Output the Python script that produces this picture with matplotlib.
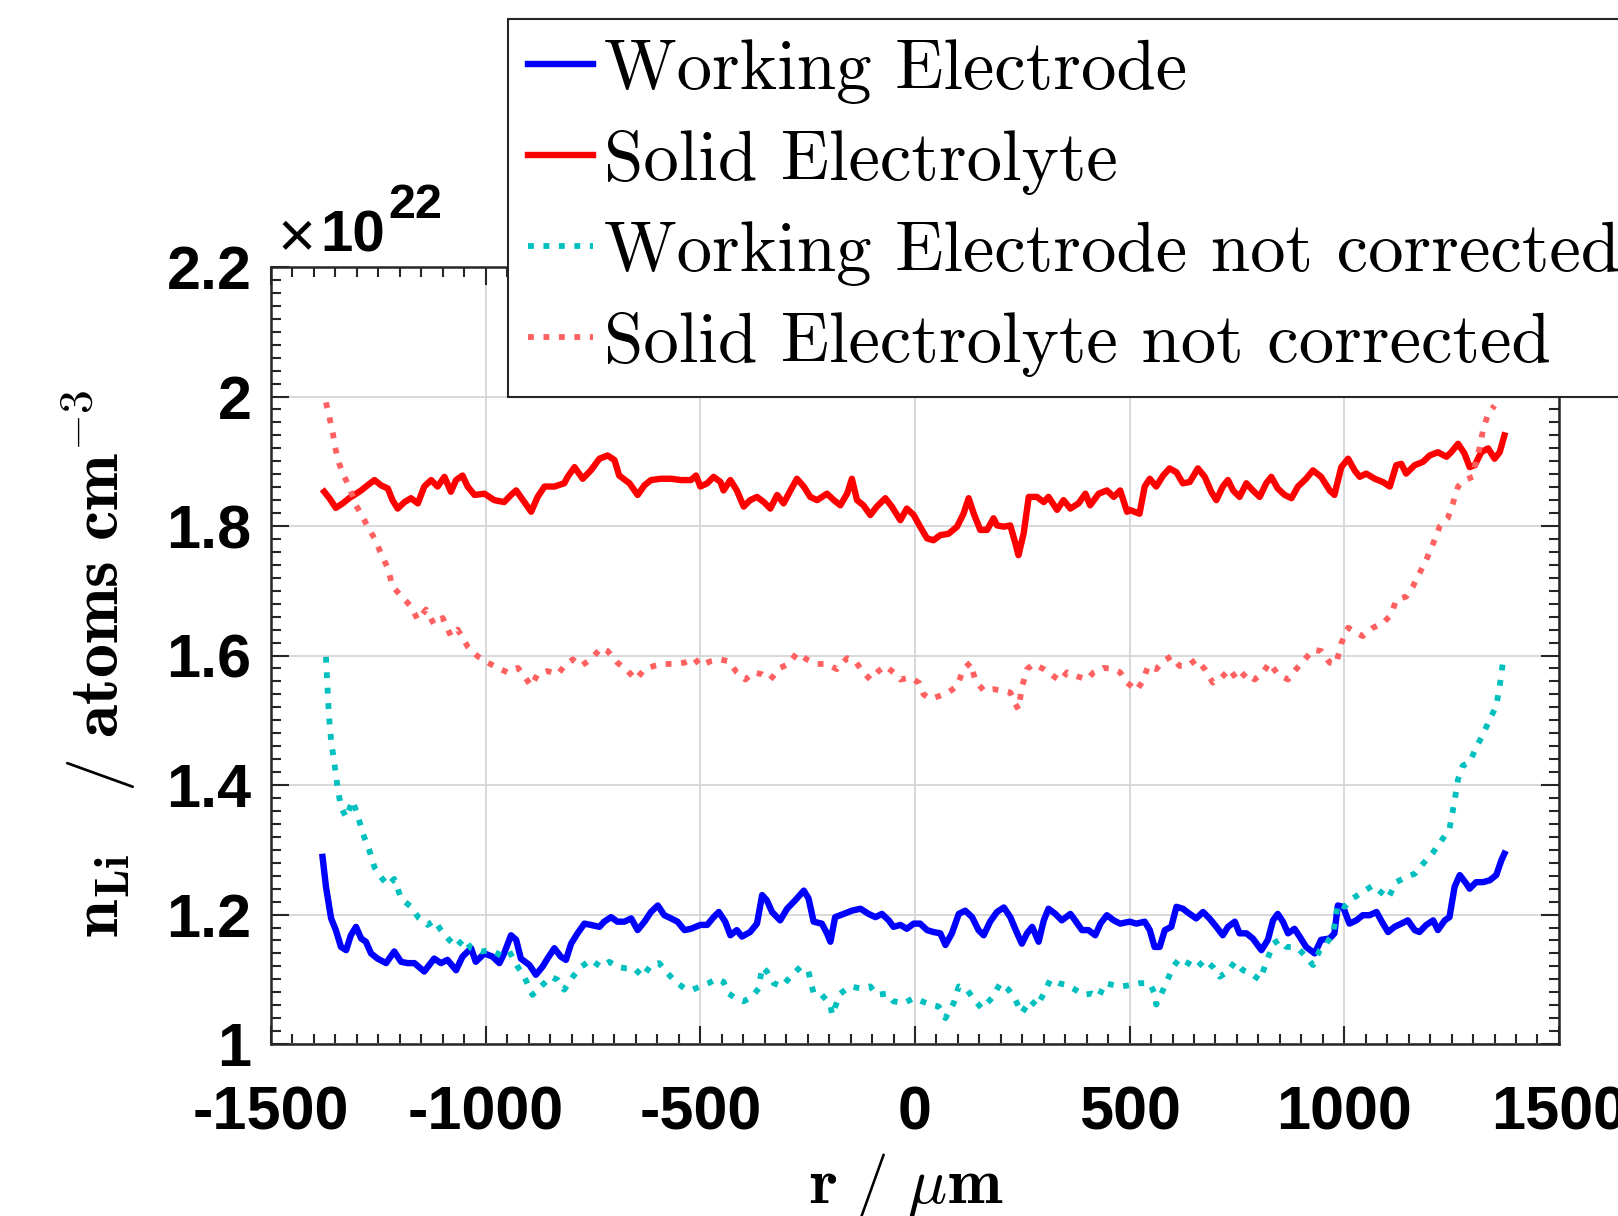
import matplotlib.pyplot as plt
from matplotlib.ticker import MultipleLocator, FormatStrFormatter

plt.rcParams['font.family'] = ['Liberation Sans', 'DejaVu Sans']
plt.rcParams['font.weight'] = 'bold'
plt.rcParams['axes.unicode_minus'] = False
plt.rcParams['mathtext.fontset'] = 'cm'

# radial position (um) and Li density (x 1e22 atoms/cm^3)
r_we = [-1380, -1372, -1360, -1349, -1337, -1325, -1314, -1302, -1290, -1279,
        -1267, -1252, -1232, -1213, -1197, -1182, -1166, -1143, -1120, -1104,
        -1089, -1069, -1054, -1034, -1023, -1003, -984, -968, -957, -941,
        -929, -918, -898, -883, -867, -856, -840, -825, -813, -801,
        -786, -770, -755, -735, -724, -708, -693, -677, -661, -646,
        -630, -615, -599, -584, -568, -553, -537, -522,
        -500, -484, -469, -457, -442, -430, -415, -403, -384, -368,
        -356, -345, -333, -314, -298, -279, -259, -248, -236, -217,
        -205, -197, -186, -166, -147, -127, -108, -92, -77, -61,
        -50, -34, -19, -3, 12, 28, 43, 59, 71, 86,
        102, 117, 133, 148, 160, 175, 191, 207, 222, 238,
        249, 261, 273, 288, 300, 311, 327, 342, 362, 373,
        389, 404, 420, 432, 447, 463, 478,
        500, 516, 535, 547, 558, 570, 582, 597, 609, 624,
        640, 655, 671, 686, 702, 717, 729, 745, 756, 772,
        787, 807, 822, 834, 845, 857, 869, 884, 896, 911,
        931, 946, 966, 977, 985, 997, 1012, 1028, 1043, 1059,
        1075, 1090, 1102, 1117, 1133, 1148, 1164, 1175, 1191, 1207,
        1218, 1234, 1245, 1257, 1269, 1284, 1292, 1307, 1323, 1339,
        1354, 1366, 1373]
n_we = [1.289, 1.243, 1.194, 1.176, 1.150, 1.145, 1.168, 1.181, 1.163, 1.158,
        1.140, 1.132, 1.125, 1.143, 1.127, 1.125, 1.125, 1.112, 1.132, 1.125,
        1.130, 1.114, 1.135, 1.148, 1.127, 1.140, 1.135, 1.125, 1.140, 1.168,
        1.161, 1.132, 1.122, 1.107, 1.120, 1.132, 1.148, 1.135, 1.130, 1.155,
        1.171, 1.186, 1.184, 1.181, 1.189, 1.196, 1.189, 1.189, 1.194, 1.176,
        1.189, 1.204, 1.214, 1.199, 1.194, 1.189, 1.176, 1.178,
        1.184, 1.184, 1.196, 1.204, 1.189, 1.168, 1.176, 1.166, 1.173, 1.186,
        1.230, 1.222, 1.204, 1.191, 1.209, 1.222, 1.237, 1.225, 1.189, 1.186,
        1.171, 1.158, 1.196, 1.201, 1.206, 1.209, 1.201, 1.196, 1.201, 1.191,
        1.181, 1.184, 1.178, 1.186, 1.186, 1.176, 1.173, 1.171, 1.153, 1.171,
        1.201, 1.206, 1.196, 1.176, 1.168, 1.189, 1.204, 1.211, 1.196, 1.171,
        1.155, 1.171, 1.181, 1.158, 1.191, 1.209, 1.201, 1.191, 1.201, 1.191,
        1.176, 1.176, 1.168, 1.186, 1.199, 1.191, 1.186,
        1.189, 1.186, 1.189, 1.176, 1.150, 1.150, 1.176, 1.181, 1.212, 1.209,
        1.201, 1.194, 1.204, 1.194, 1.181, 1.168, 1.181, 1.189, 1.171, 1.171,
        1.163, 1.145, 1.161, 1.191, 1.201, 1.189, 1.171, 1.178, 1.166, 1.150,
        1.140, 1.161, 1.163, 1.171, 1.214, 1.212, 1.186, 1.191, 1.199, 1.199,
        1.204, 1.186, 1.173, 1.181, 1.186, 1.191, 1.176, 1.173, 1.184, 1.191,
        1.176, 1.191, 1.196, 1.243, 1.261, 1.248, 1.240, 1.250, 1.250, 1.253,
        1.261, 1.284, 1.294]

r_se = [-1376, -1364, -1349, -1333, -1318, -1306, -1290, -1275, -1259, -1244,
        -1228, -1217, -1205, -1189, -1174, -1158, -1143, -1127, -1112, -1096,
        -1081, -1069, -1054, -1042, -1026, -1003, -980, -957, -941, -929,
        -910, -894, -879, -863, -840, -817, -809, -793, -774, -755,
        -735, -716, -700, -689, -665, -646, -630, -615, -592, -568,
        -545, -522, -510,
        -500, -484, -469, -453, -446, -430, -415, -399, -384, -368,
        -352, -337, -321, -306, -290, -275, -259, -244, -228, -205,
        -189, -174, -158, -147, -135, -120, -104, -89, -69, -54,
        -34, -19, -3, 12, 28, 43, 59, 78, 98, 113,
        125, 137, 152, 168, 183, 191, 207, 222, 234, 241,
        253, 265, 284, 300, 311, 331, 346, 362, 381, 397,
        408, 428, 447, 463, 478, 494,
        500, 523, 535, 547, 562, 578, 593, 609, 624, 640,
        659, 675, 690, 702, 717, 729, 741, 756, 772, 787,
        803, 818, 830, 845, 861, 877, 892, 911, 927, 946,
        966, 977, 993, 1009, 1024, 1036, 1051, 1071, 1090, 1106,
        1121, 1133, 1144, 1164, 1183, 1199, 1218, 1238, 1249, 1265,
        1280, 1292, 1304, 1319, 1335, 1350, 1362, 1373]
n_se = [1.853, 1.843, 1.828, 1.835, 1.843, 1.848, 1.855, 1.863, 1.871, 1.863,
        1.858, 1.840, 1.827, 1.837, 1.843, 1.835, 1.861, 1.871, 1.861, 1.876,
        1.853, 1.871, 1.878, 1.861, 1.848, 1.850, 1.840, 1.837, 1.848, 1.855,
        1.837, 1.822, 1.845, 1.861, 1.861, 1.866, 1.876, 1.891, 1.873, 1.886,
        1.904, 1.909, 1.902, 1.878, 1.866, 1.848, 1.863, 1.871, 1.873, 1.873,
        1.871, 1.871, 1.878,
        1.861, 1.866, 1.876, 1.868, 1.855, 1.871, 1.855, 1.830, 1.840, 1.845,
        1.837, 1.827, 1.848, 1.835, 1.855, 1.873, 1.861, 1.845, 1.840, 1.850,
        1.840, 1.832, 1.850, 1.873, 1.840, 1.832, 1.817, 1.830, 1.843, 1.830,
        1.809, 1.827, 1.817, 1.799, 1.781, 1.778, 1.786, 1.788, 1.799, 1.819,
        1.843, 1.819, 1.794, 1.794, 1.812, 1.801, 1.799, 1.801, 1.773, 1.755,
        1.788, 1.845, 1.845, 1.837, 1.845, 1.825, 1.840, 1.827, 1.835, 1.850,
        1.832, 1.850, 1.855, 1.845, 1.855, 1.822,
        1.825, 1.819, 1.861, 1.873, 1.861, 1.878, 1.889, 1.883, 1.866, 1.868,
        1.889, 1.876, 1.853, 1.840, 1.861, 1.871, 1.855, 1.845, 1.866, 1.855,
        1.845, 1.866, 1.876, 1.858, 1.848, 1.843, 1.861, 1.873, 1.886, 1.876,
        1.855, 1.848, 1.891, 1.904, 1.886, 1.876, 1.881, 1.873, 1.868, 1.861,
        1.894, 1.896, 1.881, 1.894, 1.899, 1.909, 1.914, 1.907, 1.914, 1.927,
        1.912, 1.891, 1.894, 1.914, 1.920, 1.904, 1.914, 1.940]

r_we_raw = [-1372, -1368, -1366, -1364, -1360, -1352, -1345, -1337, -1325, -1310,
            -1298, -1286, -1271, -1259, -1244, -1228, -1213, -1197, -1174, -1155,
            -1135, -1120, -1104, -1085, -1069, -1050, -1034, -1011, -988, -964,
            -945, -925, -910, -891, -871, -848, -832, -817, -797, -778,
            -755, -731, -712, -693, -673, -654, -634, -615, -596, -576,
            -557, -537, -518,
            -500, -481, -461, -446, -434, -418, -399, -380, -364, -356,
            -345, -329, -310, -290, -267, -248, -236, -217, -197, -193,
            -174, -151, -127, -104, -89, -65, -50, -26, -3, 16,
            36, 55, 71, 90, 102, 121, 141, 156, 179, 199,
            218, 234, 249, 269, 284, 300, 315, 335, 354, 373,
            393, 412, 428, 443, 463, 482,
            500, 523, 547, 558, 562, 574, 585, 601, 616, 636,
            655, 675, 694, 710, 729, 745, 764, 783, 803, 818,
            834, 849, 865, 880, 896, 911, 927, 943, 958, 974,
            985, 1001, 1020, 1043, 1067, 1090, 1102, 1121, 1144, 1164,
            1183, 1207, 1226, 1245, 1257, 1265, 1276, 1292, 1307, 1323,
            1339, 1354, 1362, 1370]
n_we_raw = [1.598, 1.545, 1.519, 1.499, 1.468, 1.432, 1.396, 1.366, 1.350, 1.376,
            1.353, 1.325, 1.299, 1.273, 1.258, 1.245, 1.255, 1.225, 1.212, 1.194,
            1.184, 1.191, 1.176, 1.161, 1.150, 1.163, 1.148, 1.143, 1.145, 1.137,
            1.143, 1.119, 1.104, 1.076, 1.089, 1.104, 1.099, 1.084, 1.104, 1.119,
            1.130, 1.119, 1.127, 1.119, 1.117, 1.117, 1.104, 1.122, 1.125, 1.109,
            1.096, 1.086, 1.084,
            1.089, 1.094, 1.101, 1.096, 1.078, 1.071, 1.066, 1.073, 1.086, 1.119,
            1.112, 1.094, 1.089, 1.104, 1.119, 1.112, 1.078, 1.076, 1.061, 1.045,
            1.078, 1.089, 1.086, 1.089, 1.076, 1.078, 1.066, 1.063, 1.071, 1.066,
            1.061, 1.058, 1.040, 1.063, 1.089, 1.084, 1.066, 1.055, 1.071, 1.094,
            1.084, 1.068, 1.048, 1.068, 1.058, 1.078, 1.099, 1.094, 1.091, 1.084,
            1.076, 1.078, 1.073, 1.094, 1.091, 1.089,
            1.091, 1.094, 1.094, 1.078, 1.061, 1.078, 1.094, 1.119, 1.132, 1.125,
            1.117, 1.130, 1.119, 1.104, 1.112, 1.127, 1.114, 1.109, 1.099, 1.125,
            1.155, 1.161, 1.150, 1.150, 1.145, 1.135, 1.122, 1.145, 1.155, 1.171,
            1.217, 1.212, 1.225, 1.235, 1.245, 1.232, 1.225, 1.250, 1.258, 1.263,
            1.278, 1.296, 1.314, 1.332, 1.376, 1.409, 1.430, 1.435, 1.458, 1.478,
            1.502, 1.522, 1.553, 1.592]

r_se_raw = [-1372, -1364, -1356, -1349, -1341, -1329, -1318, -1302, -1286, -1275,
            -1259, -1244, -1228, -1217, -1197, -1174, -1158, -1139, -1120, -1100,
            -1081, -1065, -1042, -1019, -995, -972, -949, -925, -910, -894,
            -879, -856, -832, -817, -797, -778, -755, -731, -716, -693,
            -669, -650, -630, -607, -584, -561, -537, -514,
            -500, -477, -453, -434, -415, -395, -376, -356, -337, -314,
            -294, -275, -252, -228, -205, -182, -158, -139, -120, -104,
            -85, -69, -50, -34, -11, 9, 20, 36, 59, 78,
            98, 113, 129, 141, 160, 183, 203, 222, 234, 241,
            249, 261, 276, 300, 323, 339, 354, 377, 401, 416,
            439, 463, 478, 494,
            500, 516, 531, 543, 562, 578, 597, 616, 636, 655,
            675, 694, 714, 733, 752, 772, 791, 811, 826, 845,
            869, 888, 908, 927, 946, 966, 981, 993, 1009, 1028,
            1043, 1067, 1090, 1109, 1121, 1144, 1160, 1175, 1191, 1207,
            1222, 1241, 1253, 1265, 1280, 1300, 1307, 1315, 1323, 1335,
            1350]
n_se_raw = [1.991, 1.968, 1.943, 1.917, 1.896, 1.876, 1.861, 1.832, 1.814, 1.799,
            1.781, 1.758, 1.735, 1.707, 1.692, 1.676, 1.655, 1.671, 1.648, 1.658,
            1.630, 1.640, 1.614, 1.599, 1.589, 1.581, 1.574, 1.581, 1.568, 1.553,
            1.571, 1.576, 1.571, 1.584, 1.594, 1.584, 1.594, 1.612, 1.607, 1.589,
            1.576, 1.563, 1.579, 1.584, 1.587, 1.587, 1.589, 1.596,
            1.584, 1.591, 1.594, 1.591, 1.574, 1.563, 1.574, 1.571, 1.563, 1.581,
            1.587, 1.604, 1.594, 1.587, 1.587, 1.579, 1.596, 1.591, 1.574, 1.563,
            1.576, 1.584, 1.574, 1.563, 1.566, 1.558, 1.540, 1.533, 1.538, 1.543,
            1.553, 1.579, 1.589, 1.561, 1.546, 1.548, 1.546, 1.543, 1.525, 1.517,
            1.551, 1.579, 1.587, 1.579, 1.568, 1.561, 1.574, 1.568, 1.563, 1.574,
            1.581, 1.579, 1.574, 1.558,
            1.555, 1.546, 1.561, 1.584, 1.579, 1.591, 1.599, 1.584, 1.584, 1.594,
            1.579, 1.558, 1.566, 1.579, 1.561, 1.574, 1.563, 1.574, 1.589, 1.571,
            1.563, 1.579, 1.594, 1.609, 1.607, 1.589, 1.587, 1.619, 1.643, 1.635,
            1.630, 1.643, 1.650, 1.663, 1.686, 1.691, 1.707, 1.727, 1.748, 1.773,
            1.799, 1.812, 1.835, 1.861, 1.871, 1.876, 1.902, 1.920, 1.948, 1.973,
            1.986]

labels = ['Working Electrode', 'Solid Electrolyte',
          'Working Electrode not corrected', 'Solid Electrolyte not corrected']

fig = plt.figure(figsize=(16.18, 12.16), dpi=100)
ax = fig.add_axes([0.1675, 0.1414, 0.796, 0.639])

ax.plot(r_we, n_we, color=(0, 0, 1), lw=4.6, label=labels[0])
ax.plot(r_se, n_se, color=(1, 0, 0), lw=4.6, label=labels[1])
ax.plot(r_we_raw, n_we_raw, color=(0, 0.75, 0.75), lw=4.2, ls=':', label=labels[2])
ax.plot(r_se_raw, n_se_raw, color=(1, 0.38, 0.38), lw=4.2, ls=':', label=labels[3])

ax.set_xlim(-1500, 1500)
ax.set_ylim(1.0, 2.2)
ax.xaxis.set_major_locator(MultipleLocator(500))
ax.xaxis.set_minor_locator(MultipleLocator(50))
ax.yaxis.set_major_locator(MultipleLocator(0.2))
ax.yaxis.set_minor_locator(MultipleLocator(0.02))
ax.yaxis.set_major_formatter(FormatStrFormatter('%g'))

ax.tick_params(which='both', direction='in', top=True, right=True,
               color='#262626', width=1.5)
ax.tick_params(which='major', length=13, labelsize=44)
ax.tick_params(axis='x', which='major', pad=30)
ax.tick_params(axis='y', which='major', pad=14)
ax.tick_params(which='minor', length=7)
ax.grid(True, which='major', color='#d6d6d6', lw=1.3)
for sp in ax.spines.values():
    sp.set_color('#262626')
    sp.set_linewidth(1.8)

# axis titles
ax.text(0.493, -0.138, r'$\mathbf{r\ /\ }\mu\mathbf{m}$', transform=ax.transAxes,
        ha='center', va='top', fontsize=47)
ax.text(-0.134, 0.49,
        r'$\mathbf{n}_{\mathbf{Li}}\ \ \ \mathbf{/\ atoms\ cm}^{\mathbf{-3}}$',
        transform=ax.transAxes, rotation=90, ha='center', va='center', fontsize=49)

# exponent label above the y axis
fig.text(277 / 1618, 1 - 257 / 1216, '\u00d7', fontsize=47, fontweight='normal', va='baseline')
fig.text(320 / 1618, 1 - 252 / 1216, '10', fontsize=42, fontweight='bold', va='baseline')
fig.text(388 / 1618, 1 - 218 / 1216, '22', fontsize=35, fontweight='bold', va='baseline')

leg = ax.legend(loc='upper left', bbox_to_anchor=(508 / 1618, 1 - 19 / 1216),
                bbox_transform=fig.transFigure,
                prop={'family': 'cmr10', 'size': 51, 'weight': 'normal'},
                fancybox=False, framealpha=1, edgecolor='#262626',
                borderpad=0.28, labelspacing=0.37, handlelength=0.92,
                handletextpad=0.16, borderaxespad=0)
leg.get_frame().set_linewidth(1.5)

fig.savefig('out.png', dpi=100)
